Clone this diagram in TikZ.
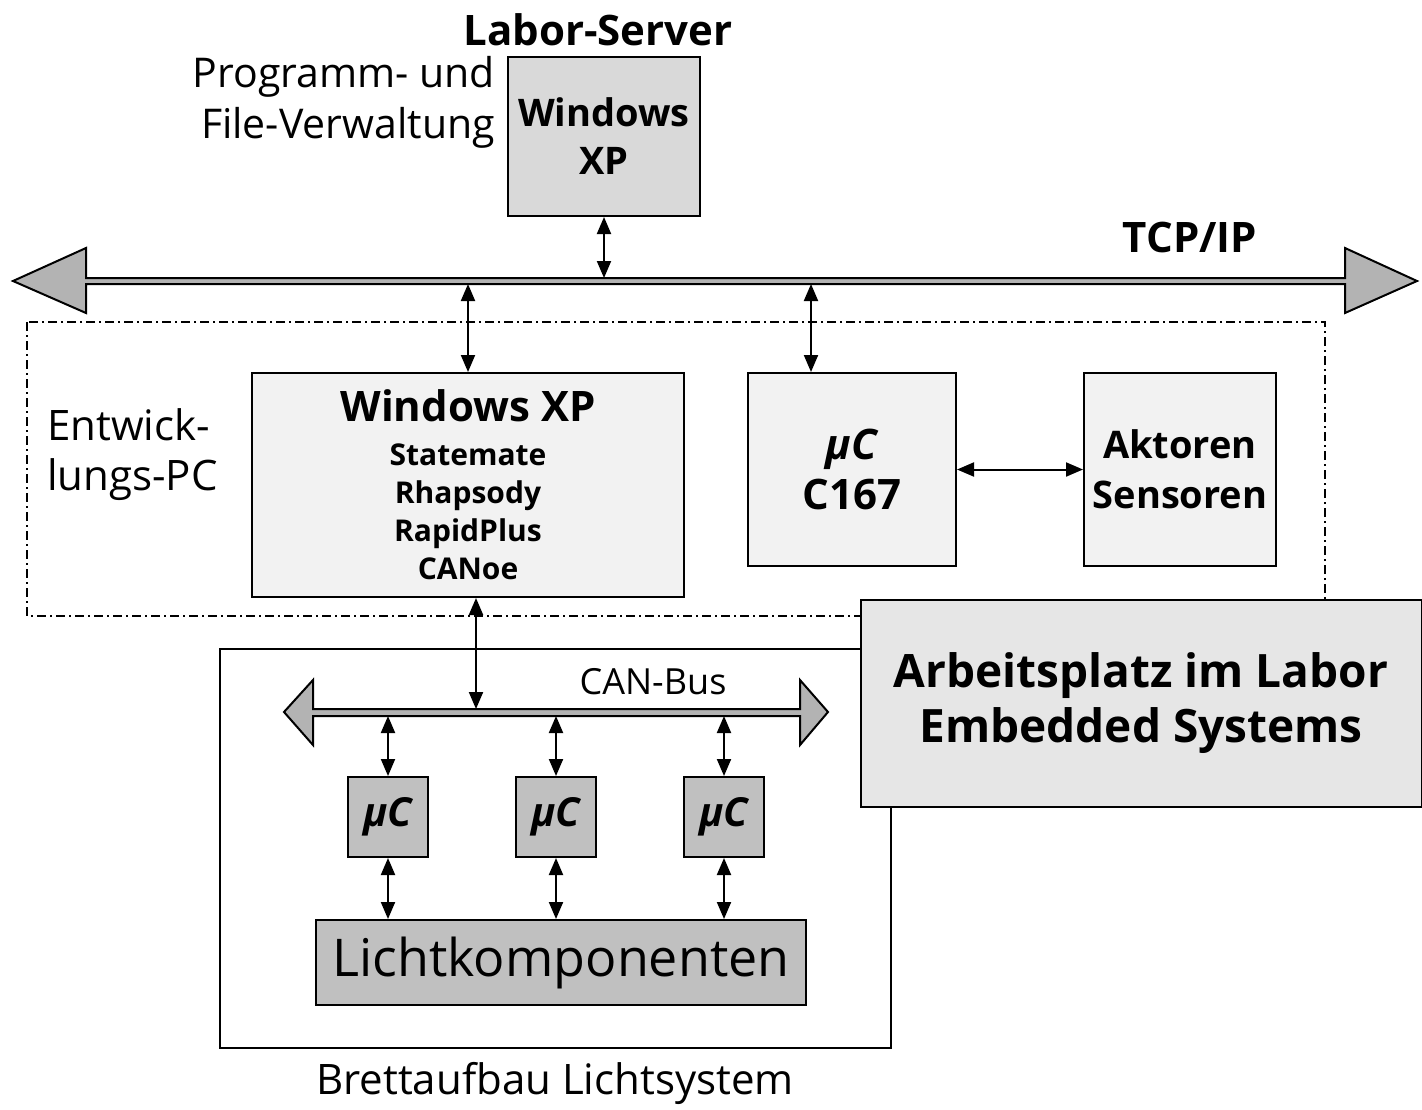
\documentclass[tikz,border=0pt]{standalone}
\usepackage{fontspec}
\setmainfont{Open Sans}
\usepackage{tikz}
\usetikzlibrary{arrows.meta}

\definecolor{servergray}{HTML}{D9D9D9}
\definecolor{pcgray}{HTML}{F2F2F2}
\definecolor{titlegray}{HTML}{E6E6E6}
\definecolor{mcgray}{HTML}{C0C0C0}
\definecolor{busgray}{HTML}{B3B3B3}

\begin{document}
\begin{tikzpicture}[x=1pt, y=-1pt,
  box/.style={draw, line width=2pt, inner sep=0pt, align=center},
  link/.style={{Triangle[length=17pt,width=14pt]}-{Triangle[length=17pt,width=14pt]}, line width=2pt},
  bus/.style={draw, line width=2pt, fill=busgray, line join=miter},
  plain/.style={inner sep=0pt, align=left}]

\useasboundingbox (0,0) rectangle (1422,1109);

%% frames (drawn first, the title box covers them)
\draw[line width=1.5pt, dash pattern=on 9pt off 4pt on 2pt off 4pt]
  (27,322) rectangle (1325,616);
\draw[line width=1.5pt] (220,649) rectangle (891,1048);

%% TCP/IP bus
\draw[bus] (13,281) -- (86,248) -- (86,278) -- (1345,278) -- (1345,248) -- (1417,281)
  -- (1345,313) -- (1345,284) -- (86,284) -- (86,313) -- cycle;
\coordinate (tcpT) at (0,278);
\coordinate (tcpB) at (0,284);
\coordinate (tcpC) at (811,284);

%% CAN bus
\draw[bus] (284,712) -- (313,680) -- (313,709) -- (800,709) -- (800,680) -- (828,712)
  -- (800,745) -- (800,716) -- (313,716) -- (313,745) -- cycle;
\coordinate (canT) at (0,709);
\coordinate (canB) at (0,716);
\coordinate (canPC) at (476,709);

%% server
\path
(598,30) node[plain, font=\fontsize{42}{48}\selectfont\bfseries](labor){Labor-Server}
(604,136.5) node[box, fill=servergray, minimum width=192pt, minimum height=159pt,
  font=\fontsize{38}{48}\selectfont\bfseries](server){Windows\\XP}
(495,102) node[plain, anchor=east, align=right, font=\fontsize{41}{51}\selectfont](verw)
  {Programm- und\\File-Verwaltung}
(1190,237) node[plain, font=\fontsize{42}{50}\selectfont\bfseries](tcp){TCP/IP};

%% Entwicklungs-PC
\path
(47,455) node[plain, anchor=west, font=\fontsize{42}{50}\selectfont](entw){Entwick-\\lungs-PC}
(468,485) node[box, fill=pcgray, minimum width=432pt, minimum height=224pt,
  font=\fontsize{30}{38}\selectfont\bfseries](pc)
  {{\fontsize{42}{50}\selectfont Windows XP}\\[6pt]Statemate\\Rhapsody\\RapidPlus\\CANoe}
(852,469.5) node[box, fill=pcgray, minimum width=208pt, minimum height=193pt,
  font=\fontsize{42}{50}\selectfont\bfseries](c167){\textit{µC}\\C167}
(1180,469.5) node[box, fill=pcgray, minimum width=192pt, minimum height=193pt,
  font=\fontsize{38}{50}\selectfont\bfseries](akt){Aktoren\\Sensoren};

\draw[link] (server.south) -- (server.south |- tcpT);
\draw[link] (pc.north |- tcpB) -- (pc.north);
\draw[link] (tcpC) -- (tcpC |- c167.north);
\draw[link] (c167.east) -- (akt.west);

%% Brettaufbau
\path
(653,682) node[plain, font=\fontsize{36}{44}\selectfont](can){CAN-Bus}
(388,817) node[box, fill=mcgray, minimum width=80pt, minimum height=80pt,
  font=\fontsize{40}{48}\selectfont\bfseries\itshape](mc1){µC}
(556,817) node[box, fill=mcgray, minimum width=80pt, minimum height=80pt,
  font=\fontsize{40}{48}\selectfont\bfseries\itshape](mc2){µC}
(724,817) node[box, fill=mcgray, minimum width=80pt, minimum height=80pt,
  font=\fontsize{40}{48}\selectfont\bfseries\itshape](mc3){µC}
(561,962.5) node[box, fill=mcgray, minimum width=490pt, minimum height=85pt,
  font=\fontsize{52}{60}\selectfont](licht){Lichtkomponenten}
(555,1083) node[plain, font=\fontsize{42}{50}\selectfont](brett){Brettaufbau Lichtsystem};

\draw[link] (canPC |- pc.south) -- (canPC);
\foreach \m in {mc1,mc2,mc3}{
  \draw[link] (\m.north |- canB) -- (\m.north);
  \draw[link] (\m.south) -- (\m.south |- licht.north);
}

%% title box
\path
(1141,703.5) node[box, fill=titlegray, minimum width=561pt, minimum height=207pt,
  font=\fontsize{46}{55}\selectfont\bfseries](title){Arbeitsplatz im Labor\\Embedded Systems};

\end{tikzpicture}
\end{document}
